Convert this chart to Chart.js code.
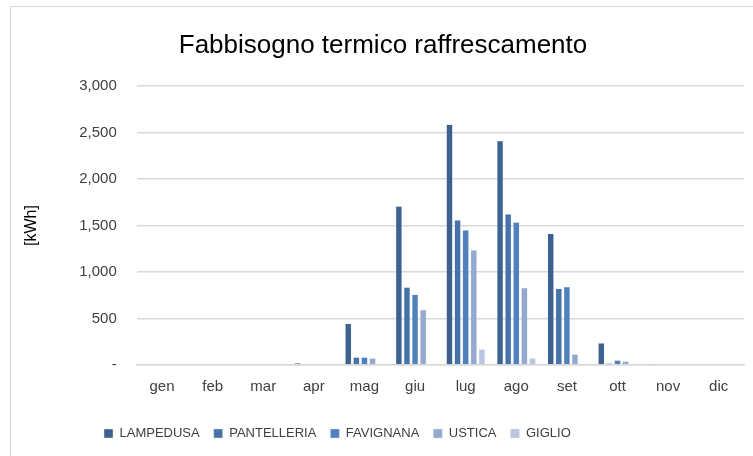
<!DOCTYPE html>
<html>
<head>
<meta charset="utf-8">
<script src="https://cdn.jsdelivr.net/npm/chart.js@4.4.0/dist/chart.umd.min.js"></script>
<style>
    body { margin: 0; background: #fff; }
    #wrap { position: relative; width: 753px; height: 456px; overflow: hidden; }
    #frame { position: absolute; left: 10px; top: 6px; width: 800px; height: 500px; border: 1.5px solid #d9d9d9; }
    #myChart { position: absolute; left: 0; top: 0; }
</style>
</head>
<body>
<div id="wrap">
    <div id="frame"></div>
    <canvas id="myChart" width="753" height="456"></canvas>
</div>
<script>
const mesi = ['gen', 'feb', 'mar', 'apr', 'mag', 'giu', 'lug', 'ago', 'set', 'ott', 'nov', 'dic'];

const lampedusa   = [0, 0, 0, 22, 448, 1710, 2591, 2416, 1419, 240, 12, 0];
const pantelleria = [0, 0, 0, 0, 86, 839, 1562, 1627, 825, 21, 0, 0];
const favignana   = [0, 0, 0, 0, 86, 760, 1455, 1538, 846, 54, 0, 0];
const ustica      = [0, 0, 0, 0, 75, 598, 1240, 835, 118, 43, 0, 0];
const giglio      = [0, 0, 0, 0, 0, 11, 172, 75, 0, 0, 0, 0];

const yTicks = [0, 500, 1000, 1500, 2000, 2500, 3000];

const font = "'Liberation Sans', sans-serif";
const legendStart = 104;   // x del primo quadratino della legenda

function serie(label, data, color) {
    return {
        label: label,
        data: data,
        backgroundColor: color,
        borderColor: 'rgba(220,228,240,0.6)',
        borderWidth: 0.75,
        categoryPercentage: 0.8,
        barPercentage: 0.85
    };
}

// sposta la legenda a sinistra come nel grafico excel
const legendShift = {
    id: 'legendShift',
    afterLayout(chart) {
        const lg = chart.legend;
        const pad = lg.options.labels.padding;
        const dx = legendStart - pad - lg.left;
        lg.left += dx;
        lg.right += dx;
    }
};

const ctx = document.getElementById('myChart');

new Chart(ctx, {
    type: 'bar',
    data: {
        labels: mesi,
        datasets: [
            serie('LAMPEDUSA', lampedusa, '#3d6291'),
            serie('PANTELLERIA', pantelleria, '#4572a7'),
            serie('FAVIGNANA', favignana, '#4f81bd'),
            serie('USTICA', ustica, '#94a8d0'),
            serie('GIGLIO', giglio, '#bac6e1')
        ]
    },
    options: {
        responsive: false,
        animation: false,
        layout: { padding: { left: 22, right: 9, top: 12, bottom: 6 } },
        plugins: {
            title: {
                display: true,
                text: 'Fabbisogno termico raffrescamento',
                color: '#000',
                font: { family: font, size: 26, weight: 'normal' },
                padding: { top: 18, bottom: 25 }
            },
            legend: {
                position: 'bottom',
                align: 'start',
                labels: {
                    color: '#404040',
                    font: { family: font, size: 13 },
                    boxWidth: 9,
                    boxHeight: 9,
                    padding: 14
                }
            },
            tooltip: { enabled: false }
        },
        scales: {
            x: {
                grid: { display: false },
                border: { color: '#d9d9d9', width: 1.5 },
                ticks: { color: '#404040', font: { family: font, size: 15 }, padding: 5 },
                afterFit: scale => { scale.height += 12; }
            },
            y: {
                min: 0,
                max: 3000,
                afterBuildTicks: axis => { axis.ticks = yTicks.map(v => ({ value: v })); },
                grid: { color: '#d9d9d9', lineWidth: 1.5, drawTicks: false },
                border: { display: false },
                ticks: {
                    color: '#404040',
                    font: { family: font, size: 15 },
                    padding: 20,
                    callback: v => v === 0 ? '-' : v.toLocaleString('en-US')
                },
                title: {
                    display: true,
                    text: '[kWh]',
                    color: '#000',
                    font: { family: font, size: 16 },
                    padding: { top: 0, bottom: 18 }
                }
            }
        }
    },
    plugins: [legendShift]
});
</script>
</body>
</html>
